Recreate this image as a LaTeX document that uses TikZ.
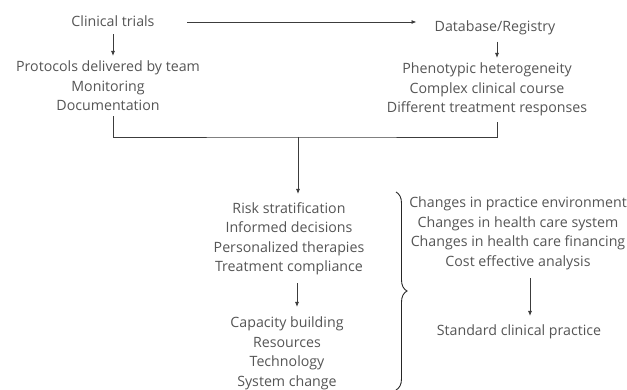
\documentclass[tikz,border=0pt]{standalone}
\usepackage{fontspec}
\setmainfont{Open Sans}
\usepackage{xcolor}
\usetikzlibrary{arrows.meta,decorations.pathreplacing}

\definecolor{txtgray}{HTML}{555555}
\definecolor{linegray}{HTML}{3C3C3C}

\begin{document}
\begin{tikzpicture}[
  x=1pt, y=-1pt,
  txt/.style={align=center, anchor=north, text=txtgray, inner sep=0pt,
    font=\fontsize{14.2}{19.5}\selectfont},
  arrow/.style={-{Latex[length=5pt,width=4pt]}, draw=linegray, line width=0.8pt},
  line/.style={draw=linegray, line width=0.8pt},
  brace/.style={draw=black!85, line width=0.9pt,
    decorate, decoration={brace, amplitude=11pt}}
]
\useasboundingbox (0,0) rectangle (627,390);

% top row
\node[txt] (trials) at (113,16) {Clinical trials};
\node[txt] (registry) at (495,21) {Database/Registry};
\node[txt] (protocols) at (108,61) {Protocols delivered by team\\Monitoring\\Documentation};
\node[txt] (pheno) at (487,63) {Phenotypic heterogeneity\\Complex clinical course\\Different treatment responses};

% middle column
\node[txt] (risk) at (289,202) {Risk stratification\\Informed decisions\\Personalized therapies\\Treatment compliance};
\node[txt] (capacity) at (287,317) {Capacity building\\Resources\\Technology\\System change};

% right column
\node[txt] (changes) at (518,197) {Changes in practice environment\\Changes in health care system\\Changes in health care financing\\Cost effective analysis};
\node[txt] (standard) at (519,325) {Standard clinical practice};

\coordinate (hstart) at (187,22);
\coordinate (join) at (298,137);
\coordinate (bracetop) at (396,192);
\coordinate (bracebot) at (396,390);

\draw[arrow, shorten >=18pt] (hstart) -- (registry.west |- hstart);
\draw[arrow, shorten <=7pt, shorten >=5pt] (trials.south) -- (trials.south |- protocols.north);
\draw[arrow, shorten <=6pt, shorten >=5pt] ([xshift=2pt]registry.south) -- ([xshift=2pt]registry.south |- pheno.north);

\draw[line] ([xshift=5pt,yshift=-5pt]protocols.south) |- (join) -| ([xshift=10pt,yshift=-5pt]pheno.south);
\draw[arrow, shorten >=8pt] (join) -- (join |- risk.north);

\draw[arrow, shorten <=8pt, shorten >=10pt] ([xshift=8pt]risk.south) -- ([xshift=8pt]risk.south |- capacity.north);
\draw[arrow, shorten <=8pt, shorten >=9pt] ([xshift=12pt]changes.south) -- ([xshift=12pt]changes.south |- standard.north);

\draw[brace] (bracetop) -- (bracebot);
\end{tikzpicture}
\end{document}
